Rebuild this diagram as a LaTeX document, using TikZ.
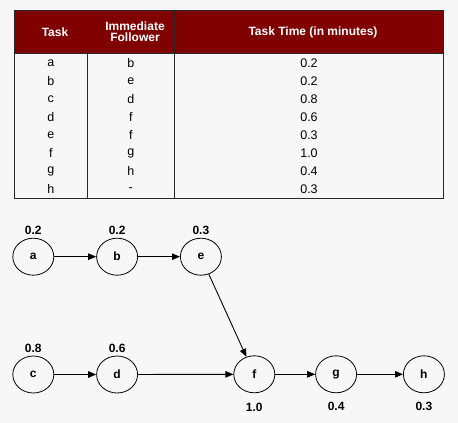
\documentclass[tikz,border=0pt]{standalone}
\usepackage{fontspec}
\setmainfont{Liberation Sans}
\usepackage{xcolor}
\definecolor{hdred}{RGB}{128,0,0}
\definecolor{bggray}{RGB}{247,247,247}
\definecolor{lgray}{RGB}{40,40,40}
\usetikzlibrary{arrows.meta,shapes.geometric,positioning}

\begin{document}
\begin{tikzpicture}[
  x=1pt,y=-1pt,
  node distance=42pt,
  task/.style={ellipse,draw,line width=0.8pt,minimum width=41pt,minimum height=37pt,inner sep=0pt,font=\fontsize{12}{14}\selectfont\bfseries},
  tlab/.style={inner sep=1pt,font=\fontsize{12}{14}\selectfont\bfseries},
  hcell/.style={text=white,align=center,font=\fontsize{12}{13}\selectfont\bfseries},
  bcell/.style={inner sep=0pt,font=\fontsize{12.5}{14}\selectfont},
  arrow/.style={-{Triangle[length=8pt,width=6.5pt]},line width=0.9pt}
]
  \useasboundingbox[fill=bggray] (0,0) rectangle (458,423);

  % Table
  \fill[hdred] (14.3,10.3) rectangle (443.7,53.3);
  \draw[lgray,semithick] (14.3,10.3) rectangle (443.7,198.7);
  \draw[lgray,semithick] (14.3,53.3) -- (443.7,53.3);
  \draw[lgray,semithick] (87.3,10.3) -- (87.3,198.7);
  \draw[lgray,semithick] (174.3,10.3) -- (174.3,198.7);
  \node[hcell] (h1) at (55,32) {Task};
  \node[hcell] (h2) at (135,32) {Immediate\\[-2pt]Follower};
  \node[hcell] (h3) at (313,32) {Task Time (in minutes)};
  \foreach \t/\f/\m [count=\i] in {a/b/0.2,b/e/0.2,c/d/0.8,d/f/0.6,e/f/0.3,f/g/1.0,g/h/0.4,h/-/0.3}{
    \node[bcell] (t\i) at (50.8,45.4+18*\i) {\t};
    \node[bcell] (f\i) at (130.8,45.4+18*\i) {\f};
    \node[bcell] (m\i) at (309,45.4+18*\i) {\m};
  }

  % Top row
  \node[task] (a) at (33.3,256.7) {a};
  \node[task,right=of a] (b) {b};
  \node[task,right=of b] (e) {e};

  % Bottom row
  \node[task,below=80pt of a] (c) {c};
  \node[task,right=of c] (d) {d};
  \node[task] (f) at (254.3,374.3) {f};
  \node[task,right=40pt of f] (g) {g};
  \node[task,right=46pt of g] (h) {h};

  % Times
  \node[tlab,above=2pt of a] (la) {0.2};
  \node[tlab,above=2pt of b] (lb) {0.2};
  \node[tlab,above=2pt of e] (le) {0.3};
  \node[tlab,above=2pt of c] (lc) {0.8};
  \node[tlab,above=2pt of d] (ld) {0.6};
  \node[tlab,below=9pt of f] (lf) {1.0};
  \node[tlab,below=8pt of g] (lg) {0.4};
  \node[tlab,below=8pt of h] (lh) {0.3};

  % Arrows
  \draw[arrow] (a) -- (b);
  \draw[arrow] (b) -- (e);
  \draw[arrow] (c) -- (d);
  \draw[arrow] (d) -- (f);
  \draw[arrow] (e) -- (f);
  \draw[arrow] (f) -- (g);
  \draw[arrow] (g) -- (h);
\end{tikzpicture}
\end{document}
